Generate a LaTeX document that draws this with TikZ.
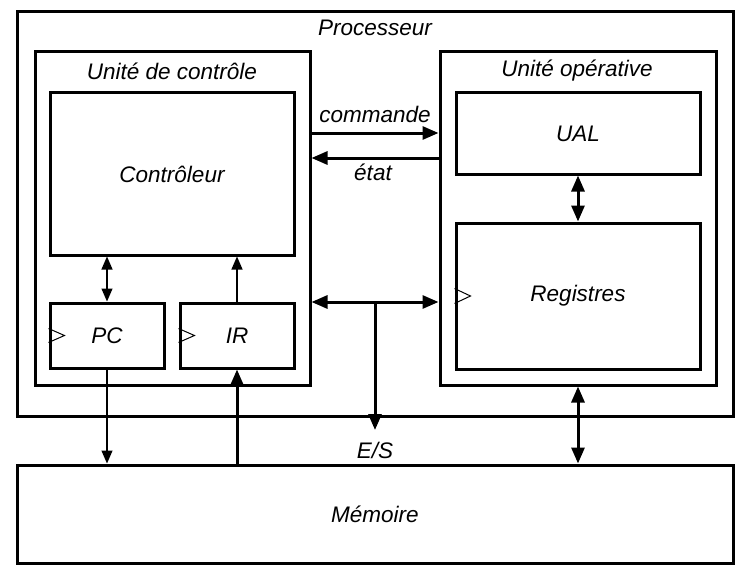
\documentclass[tikz,border=0pt]{standalone}
\usepackage{fontspec}
\setmainfont{Liberation Sans}
\usetikzlibrary{arrows.meta}
\begin{document}
\begin{tikzpicture}[x=1pt,y=-1pt,
  every node/.style={font=\fontsize{22.5}{27}\selectfont\itshape},
  box/.style={draw, line width=3pt, inner sep=0pt, outer sep=1.5pt},
  lbl/.style={inner sep=0pt},
  thickarr/.style={line width=3pt, -{Triangle[length=16pt,width=13pt]}},
  thickboth/.style={line width=3pt, {Triangle[length=16pt,width=13pt]}-{Triangle[length=16pt,width=13pt]}},
  thinarr/.style={line width=1.2pt, -{Triangle[length=13pt,width=11pt]}},
  thinboth/.style={line width=1.2pt, {Triangle[length=13pt,width=11pt]}-{Triangle[length=13pt,width=11pt]}},
  clk/.style={line width=1pt}]
\useasboundingbox (0,0) rectangle (750,578);
% boxes
\node[box, minimum width=716pt, minimum height=404pt] (proc) at (375,214) {};
\node[lbl] (proct) at (375,28) {Processeur};
\node[box, minimum width=275pt, minimum height=333pt] (uc) at (172.5,218.5) {};
\node[lbl] (uct) at (172,71) {Unité de contrôle};
\node[box, minimum width=244pt, minimum height=162pt] (ctrl) at (172,174) {Contrôleur};
\node[box, minimum width=114pt, minimum height=65pt] (pc) at (107,335.5) {PC};
\node[box, minimum width=114pt, minimum height=65pt] (ir) at (237,335.5) {IR};
\node[box, minimum width=276pt, minimum height=333pt] (uo) at (578,218.5) {};
\node[lbl] (uot) at (577,71) {Unité opérative};
\node[box, minimum width=244pt, minimum height=81pt] (ual) at (578,133.5) {UAL};
\node[box, minimum width=244pt, minimum height=146pt] (reg) at (578,296) {Registres};
\node[box, minimum width=716pt, minimum height=98pt] (mem) at (375,514) {Mémoire};
% clock triangles
\draw[clk] (pc.west) ++(0,-7) -- ++(16,7) -- ++(-16,7);
\draw[clk] (ir.west) ++(0,-7) -- ++(16,7) -- ++(-16,7);
\draw[clk] (reg.west) ++(0,-7.5) -- ++(16,7.5) -- ++(-16,7.5);
% commande / etat
\coordinate (cy) at (0,133);
\coordinate (ey) at (0,158);
\coordinate (by) at (0,302);
\draw[thickarr] (uc.east |- cy) -- (uo.west |- cy);
\node[lbl] (cmdl) at (375,114) {commande};
\draw[thickarr] (uo.west |- ey) -- (uc.east |- ey);
\node[lbl] (etatl) at (373,172) {état};
% bus
\draw[thickboth] (uc.east |- by) -- (uo.west |- by);
\coordinate (J) at (375,302);
\coordinate (ES) at (375,430);
\draw[thickarr] (J) -- (ES);
\node[lbl] (esl) at (375,450) {E/S};
% internal control
\draw[thinboth] (ctrl.south -| pc.north) -- (pc.north);
\draw[thinarr] (ir.north) -- (ctrl.south -| ir.north);
% memory links
\draw[thinarr] (pc.south) -- (pc.south |- mem.north);
\draw[thickarr] (ir.south |- mem.north) -- (ir.south);
% operative
\draw[thickboth] (ual.south) -- (reg.north);
\draw[thickboth] (uo.south) -- (uo.south |- mem.north);
\end{tikzpicture}
\end{document}
